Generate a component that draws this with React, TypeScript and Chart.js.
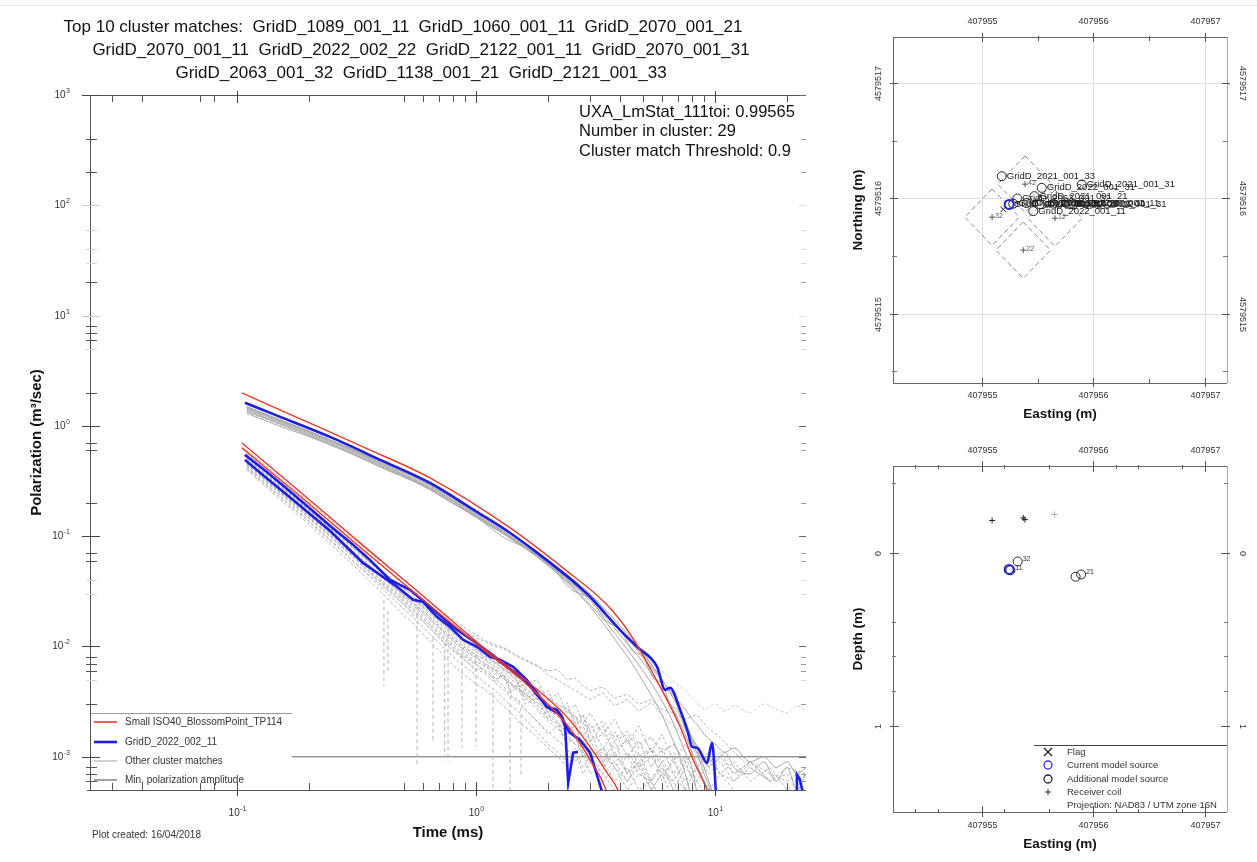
import React, { useEffect, useRef } from 'react';
import { Chart, registerables } from 'chart.js';

Chart.register(...registerables);

const FONT = '"Liberation Sans", Arial, Helvetica, sans-serif';

// ---------------- Main decay chart ----------------
const TITLE_LINES = [
  'Top 10 cluster matches:  GridD_1089_001_11  GridD_1060_001_11  GridD_2070_001_21',
  'GridD_2070_001_11  GridD_2022_002_22  GridD_2122_001_11  GridD_2070_001_31',
  'GridD_2063_001_32  GridD_1138_001_21  GridD_2121_001_33',
];
const TITLE_CENTERS = [403, 421, 421];
const INFO_LINES = ['UXA_LmStat_111toi: 0.99565', 'Number in cluster: 29', 'Cluster match Threshold: 0.9'];
const LEGEND_LABELS = ['Small ISO40_BlossomPoint_TP114', 'GridD_2022_002_11', 'Other cluster matches', 'Min. polarization amplitude'];
const PLOT_CREATED = 'Plot created: 16/04/2018';
const X_TITLE = 'Time (ms)';
const Y_TITLE = 'Polarization (m\u00B3/sec)';

const X_MIN = 0.0243;
const X_MAX = 24;
const Y_MIN = 5e-4;
const Y_MAX = 1000;
const MIN_POL = 0.001;

const X_TICKS = [0.03, 0.04, 0.07, 0.08, 0.2, 0.5, 0.6, 0.7, 0.8, 0.9, 2, 3, 4, 5, 6, 7, 8, 9, 20];
const X_MAJOR = [0.1, 1, 10];
const X_LABEL_EXP = ['-1', '0', '1'];
const Y_DECADES = [1000, 100, 10, 1, 0.1, 0.01, 0.001];
const Y_DECADE_EXP = ['3', '2', '1', '0', '-1', '-2', '-3'];
const Y_DECADES_LIGHT = [100, 10];
const Y_TICKS_DARK = [400, 200, 20, 8, 7, 6, 2, 0.7, 0.6, 0.2, 0.07, 0.06, 0.008, 0.007, 0.006, 0.003, 0.0008, 0.0007, 0.0006];
const Y_TICKS_LIGHT = [60, 40, 30, 5, 0.04, 0.03, 0.005];

// reference (red) curves [time ms, polarization]
const RED_1 = [[0.105, 1.99], [0.184, 1.16], [0.337, 0.645], [0.642, 0.338], [1.39, 0.119], [2.31, 0.0516], [3.53, 0.0239], [4.41, 0.013], [5.89, 0.00431], [7.14, 0.00187], [8.09, 0.00094], [9.26, 0.0005], [9.6, 0.0004]];
const RED_2 = [[0.105, 0.701], [0.184, 0.252], [0.337, 0.0826], [0.566, 0.032], [1.144, 0.00877], [1.57, 0.0052], [2.4, 0.0023], [3.0, 0.00123], [3.53, 0.00072], [3.92, 0.0005], [4.05, 0.0004]];
const RED_3 = [[0.105, 0.632], [0.184, 0.23], [0.337, 0.0755], [0.566, 0.0294], [1.144, 0.0084], [1.57, 0.00489], [2.4, 0.00195], [3.0, 0.00094], [3.5, 0.0005], [3.6, 0.0004]];

// current model (blue) curves
const BLUE_1 = [[0.108, 1.62], [0.15, 1.22], [0.245, 0.795], [0.4, 0.49], [0.642, 0.304], [1.0, 0.168], [1.39, 0.107], [1.8, 0.071], [2.31, 0.0465], [2.7, 0.035], [3.09, 0.0265], [3.5, 0.0195], [4.0, 0.01416], [4.72, 0.00993], [5.72, 0.00654], [6.18, 0.00405], [6.48, 0.00422], [7.14, 0.00267], [7.71, 0.00165], [8.01, 0.00123], [8.41, 0.00121], [9.26, 0.00088], [9.71, 0.00134], [10.1, 0.00045]];
const BLUE_2 = [[0.108, 0.546], [0.13, 0.4], [0.16, 0.275], [0.2, 0.182], [0.25, 0.12], [0.3, 0.087], [0.36, 0.061], [0.437, 0.0402], [0.53, 0.0327], [0.642, 0.0229], [0.833, 0.01416], [1.144, 0.00877], [1.35, 0.00654], [1.57, 0.0052], [1.73, 0.00405], [1.98, 0.00284], [2.25, 0.0024], [2.47, 0.00165], [2.72, 0.00143], [3.0, 0.00109], [3.4, 0.00045]];
const BLUE_3 = [[0.108, 0.492], [0.128, 0.36], [0.178, 0.2], [0.245, 0.112], [0.337, 0.0573], [0.371, 0.0495], [0.467, 0.0348], [0.545, 0.0265], [0.6, 0.0254], [0.687, 0.0186], [0.778, 0.0151], [0.883, 0.0115], [1.01, 0.00993], [1.144, 0.00806], [1.26, 0.00757], [1.43, 0.00654], [1.63, 0.00499], [1.8, 0.0038], [1.98, 0.00284], [2.18, 0.00267], [2.29, 0.0023], [2.36, 0.00187], [2.43, 0.00058], [2.55, 0.00109], [2.67, 0.00111]];
const BLUE_4 = [[21.8, 0.00045], [22.0, 0.00069], [22.6, 0.00063], [23.4, 0.00045]];

// other cluster matches, upper group, sampled at T_UPPER
const T_UPPER = [0.11, 0.15, 0.2, 0.3, 0.4, 0.6, 0.8, 1.0, 1.3, 1.6, 2.0, 2.5, 3.0, 3.5, 4.0, 4.5, 5.0, 5.5, 6.0, 6.5, 7.0, 7.5, 8.0, 8.5, 9.0, 10, 11, 12, 14, 16, 18, 20, 22, 24];
const UPPER_1 = [1.5, 1.15, 0.9, 0.62, 0.47, 0.315, 0.218, 0.16, 0.112, 0.082, 0.057, 0.039, 0.027, 0.019, 0.0138, 0.0106, 0.0085, 0.0065, 0.005, 0.0038, 0.0029, 0.0021, 0.0015, 0.0011, 0.0008, 0.0004];
const UPPER_2 = [1.35, 1.05, 0.82, 0.57, 0.43, 0.29, 0.2, 0.148, 0.105, 0.078, 0.055, 0.037, 0.026, 0.018, 0.0128, 0.0095, 0.0072, 0.0054, 0.004, 0.003, 0.0022, 0.0016, 0.0011, 0.0008, 0.0006, 0.0004];
const UPPER_3 = [1.42, 1.1, 0.86, 0.6, 0.45, 0.3, 0.21, 0.155, 0.11, 0.08, 0.056, 0.036, 0.024, 0.0165, 0.0115, 0.0082, 0.006, 0.0044, 0.0032, 0.0023, 0.0016, 0.0011, 0.0008, 0.0004];
const UPPER_4 = [1.3, 1.0, 0.8, 0.56, 0.42, 0.285, 0.198, 0.15, 0.098, 0.079, 0.058, 0.033, 0.027, 0.017, 0.0145, 0.0092, 0.008, 0.0052, 0.0046, 0.003, 0.0026, 0.0018, 0.0015, 0.0012, 0.001, 0.0009, 0.0011, 0.0008, 0.0007, 0.0009, 0.0006, 0.0008, 0.0005, 0.0007];
const UPPER_5 = [1.45, 1.12, 0.88, 0.61, 0.46, 0.31, 0.212, 0.156, 0.108, 0.079, 0.054, 0.035, 0.023, 0.015, 0.01, 0.007, 0.0048, 0.0034, 0.0024, 0.0016, 0.0011, 0.0007, 0.0004];
const UPPER_6 = [1.38, 1.07, 0.84, 0.585, 0.44, 0.295, 0.205, 0.152, 0.106, 0.079, 0.056, 0.038, 0.027, 0.0195, 0.014, 0.0105, 0.008, 0.0062, 0.0049, 0.004, 0.0032, 0.0027, 0.0022, 0.0019, 0.0016, 0.0013, 0.0011, 0.0012, 0.0009, 0.001, 0.0008, 0.0009, 0.0007, 0.0008];
const UPPER_7 = [1.33, 1.03, 0.81, 0.565, 0.425, 0.288, 0.2, 0.15, 0.107, 0.08, 0.058, 0.04, 0.029, 0.021, 0.0155, 0.012, 0.0095, 0.0075, 0.006, 0.0052, 0.0045, 0.004, 0.0034, 0.003, 0.0027, 0.003, 0.0026, 0.0029, 0.0025, 0.003, 0.0027, 0.0025, 0.0029, 0.0026];
const UPPER_8 = [1.48, 1.14, 0.89, 0.625, 0.475, 0.32, 0.222, 0.165, 0.118, 0.087, 0.061, 0.042, 0.03, 0.0212, 0.0155, 0.0116, 0.0088, 0.0066, 0.005, 0.0038, 0.0028, 0.002, 0.0014, 0.001, 0.0007, 0.0004];
const UPPER_GRAY = [UPPER_1, UPPER_2, UPPER_3, UPPER_4, UPPER_5, UPPER_6, UPPER_8];
const UPPER_FAINT = [UPPER_7];

// other cluster matches, lower group, sampled at T_LOWER
const T_LOWER = [0.11, 0.13, 0.16, 0.2, 0.25, 0.3, 0.36, 0.42, 0.5, 0.55, 0.6, 0.7, 0.76, 0.85, 1.0, 1.1, 1.2, 1.3, 1.4, 1.5, 1.6, 1.8, 2.0, 2.2, 2.4, 2.6, 2.8, 3.0, 3.4, 3.8, 4.3, 4.8, 5.4, 6.0, 6.7, 7.5, 8.4, 9.4, 10.5, 12, 14, 17, 20, 24];
const LOWER_1 = [0.5, 0.37, 0.255, 0.17, 0.113, 0.081, 0.058, 0.044, 0.032, 0.027, 0.023, 0.0172, 0.0148, 0.0121, 0.0096, 0.0084, 0.0071, 0.0063, 0.0055, 0.0048, 0.0043, 0.0033, 0.0025, 0.0021, 0.0016, 0.0013, 0.0011, 0.0009, 0.0007, 0.0005, 0.0004];
const LOWER_2 = [0.47, 0.35, 0.24, 0.16, 0.105, 0.075, 0.053, 0.04, 0.029, 0.0245, 0.021, 0.0155, 0.0132, 0.0108, 0.0084, 0.0075, 0.0062, 0.0057, 0.0046, 0.0043, 0.0036, 0.0029, 0.0022, 0.002, 0.0014, 0.0016, 0.0011, 0.0009, 0.0012, 0.0008, 0.0006, 0.0009, 0.0005, 0.0007, 0.0004];
const LOWER_3 = [0.44, 0.33, 0.225, 0.15, 0.098, 0.069, 0.048, 0.036, 0.026, 0.021, 0.018, 0.0132, 0.0112, 0.009, 0.007, 0.0058, 0.0052, 0.0044, 0.0036, 0.0033, 0.0027, 0.0021, 0.0017, 0.0014, 0.0012, 0.0009, 0.0011, 0.0007, 0.0009, 0.0006, 0.0008, 0.0005, 0.0006, 0.0004];
const LOWER_4 = [0.6, 0.45, 0.31, 0.205, 0.138, 0.098, 0.071, 0.054, 0.04, 0.034, 0.029, 0.022, 0.019, 0.016, 0.0128, 0.0112, 0.0104, 0.0098, 0.009, 0.0082, 0.0076, 0.0068, 0.0055, 0.005, 0.0044, 0.004, 0.0036, 0.0033, 0.0038, 0.0029, 0.0033, 0.0026, 0.0031, 0.0024, 0.0019, 0.0015, 0.0012, 0.0009, 0.0007, 0.0005];
const LOWER_5 = [0.42, 0.31, 0.21, 0.138, 0.09, 0.062, 0.043, 0.031, 0.022, 0.018, 0.015, 0.0108, 0.009, 0.0072, 0.0055, 0.0046, 0.004, 0.0034, 0.0029, 0.0026, 0.0022, 0.0017, 0.0013, 0.0011, 0.0009, 0.0012, 0.0008, 0.001, 0.0007, 0.0009, 0.0006, 0.0008, 0.0005, 0.0007, 0.0006, 0.0004];
const LOWER_6 = [0.52, 0.38, 0.26, 0.175, 0.116, 0.083, 0.059, 0.046, 0.033, 0.029, 0.023, 0.018, 0.015, 0.0128, 0.0098, 0.009, 0.0072, 0.0068, 0.0054, 0.0052, 0.0041, 0.0036, 0.0026, 0.0024, 0.0017, 0.0019, 0.0012, 0.0014, 0.0009, 0.0011, 0.0007, 0.0009, 0.0006, 0.0008, 0.0005];
const LOWER_7 = [0.46, 0.34, 0.235, 0.156, 0.103, 0.073, 0.051, 0.039, 0.028, 0.023, 0.02, 0.0146, 0.0123, 0.01, 0.0078, 0.0068, 0.006, 0.0052, 0.0045, 0.004, 0.0035, 0.0027, 0.0021, 0.0018, 0.0015, 0.0013, 0.0014, 0.001, 0.0012, 0.0009, 0.0011, 0.0008, 0.001, 0.0007, 0.0009, 0.0006, 0.0008, 0.001, 0.0007, 0.0006, 0.0009, 0.0007, 0.0006, 0.0008];
const LOWER_8 = [0.49, 0.36, 0.25, 0.165, 0.109, 0.077, 0.054, 0.04, 0.029, 0.024, 0.02, 0.015, 0.0126, 0.0102, 0.008, 0.007, 0.0061, 0.0054, 0.0047, 0.0042, 0.0038, 0.003, 0.0024, 0.002, 0.0017, 0.0015, 0.0012, 0.001, 0.0011, 0.0008, 0.001, 0.0007, 0.0006, 0.0009, 0.0007, 0.0005];
const LOWER_9 = [0.56, 0.42, 0.29, 0.195, 0.13, 0.092, 0.066, 0.05, 0.037, 0.031, 0.027, 0.02, 0.017, 0.0145, 0.012, 0.011, 0.01, 0.0096, 0.0088, 0.008, 0.0075, 0.0066, 0.006, 0.0062, 0.005, 0.0052, 0.0044, 0.004, 0.0043, 0.0034, 0.0037, 0.003, 0.0033, 0.0027, 0.0025, 0.0022, 0.0024, 0.0018, 0.0015, 0.0011, 0.0008, 0.0006];
const LOWER_10 = [0.4, 0.29, 0.195, 0.128, 0.083, 0.057, 0.039, 0.028, 0.019, 0.016, 0.013, 0.0092, 0.0076, 0.006, 0.0046, 0.004, 0.0034, 0.0029, 0.0025, 0.0021, 0.0019, 0.0015, 0.0012, 0.001, 0.0008, 0.0011, 0.0007, 0.0009, 0.0006, 0.0008, 0.0005, 0.0007, 0.0006, 0.0004];
const LOWER_11 = [0.45, 0.335, 0.23, 0.153, 0.101, 0.071, 0.05, 0.037, 0.027, 0.022, 0.019, 0.0138, 0.0116, 0.0094, 0.0073, 0.0066, 0.0057, 0.0051, 0.0046, 0.004, 0.0037, 0.0031, 0.0027, 0.0023, 0.002, 0.0017, 0.0019, 0.0014, 0.0016, 0.0012, 0.0014, 0.001, 0.0012, 0.0009, 0.0011, 0.0008, 0.001, 0.0007, 0.0009, 0.0006, 0.0008, 0.0006, 0.0007, 0.0005];
const LOWER_12 = [0.51, 0.375, 0.26, 0.172, 0.114, 0.081, 0.057, 0.043, 0.031, 0.026, 0.022, 0.0163, 0.0138, 0.0113, 0.0089, 0.008, 0.0071, 0.0063, 0.0058, 0.0052, 0.0048, 0.0041, 0.0034, 0.003, 0.0026, 0.0023, 0.002, 0.0018, 0.0021, 0.0015, 0.0017, 0.0013, 0.0015, 0.0011, 0.0013, 0.0009, 0.0011, 0.0008, 0.001, 0.0007, 0.0009, 0.0006, 0.0008, 0.0007];
const LOWER_13 = [0.43, 0.32, 0.22, 0.145, 0.095, 0.067, 0.046, 0.034, 0.024, 0.02, 0.017, 0.0123, 0.0102, 0.0082, 0.0063, 0.0056, 0.0047, 0.0041, 0.0035, 0.0031, 0.0027, 0.0021, 0.0016, 0.0019, 0.0013, 0.0015, 0.001, 0.0012, 0.0008, 0.0011, 0.0007, 0.0009, 0.0012, 0.0008, 0.0006, 0.0009, 0.0005];
const LOWER_14 = [0.48, 0.355, 0.245, 0.162, 0.107, 0.076, 0.053, 0.04, 0.029, 0.0245, 0.021, 0.0155, 0.0131, 0.0106, 0.0083, 0.0077, 0.0066, 0.0061, 0.005, 0.0047, 0.0039, 0.0034, 0.003, 0.0025, 0.0028, 0.0021, 0.0024, 0.0017, 0.0019, 0.0014, 0.0016, 0.0012, 0.0015, 0.0011, 0.0013, 0.0009, 0.0012, 0.0008, 0.0011, 0.0007, 0.0009, 0.0006];
const LOWER_15 = [0.55, 0.4, 0.27, 0.18, 0.12, 0.085, 0.06, 0.045, 0.034, 0.028, 0.024, 0.018, 0.015, 0.0125, 0.01, 0.0075, 0.0085, 0.006, 0.0068, 0.0045, 0.0052, 0.0035, 0.004, 0.0026, 0.0031, 0.0019, 0.0024, 0.0014, 0.0019, 0.001, 0.0015, 0.0008, 0.0012, 0.0006, 0.001, 0.0005, 0.0008, 0.0005, 0.0007];
const LOWER_16 = [0.41, 0.3, 0.205, 0.135, 0.088, 0.062, 0.044, 0.033, 0.024, 0.019, 0.017, 0.012, 0.01, 0.0085, 0.006, 0.0068, 0.0048, 0.0055, 0.0038, 0.0044, 0.003, 0.0034, 0.0022, 0.0027, 0.0016, 0.0021, 0.0012, 0.0017, 0.0009, 0.0014, 0.0007, 0.0011, 0.0006, 0.0009, 0.0005, 0.0008, 0.0006, 0.0004];
const LOWER_17 = [0.53, 0.39, 0.265, 0.176, 0.117, 0.083, 0.058, 0.044, 0.032, 0.027, 0.023, 0.017, 0.0145, 0.0118, 0.0093, 0.0082, 0.007, 0.0075, 0.0055, 0.0062, 0.0045, 0.005, 0.0032, 0.0038, 0.0025, 0.003, 0.002, 0.0025, 0.0016, 0.0022, 0.0013, 0.0019, 0.0011, 0.0016, 0.0009, 0.0013, 0.0008, 0.0011, 0.0007, 0.0009, 0.0006, 0.0008, 0.0005, 0.0007];
const LOWER_18 = [0.45, 0.33, 0.225, 0.148, 0.097, 0.068, 0.047, 0.035, 0.025, 0.021, 0.018, 0.0128, 0.0108, 0.0086, 0.0068, 0.006, 0.005, 0.0056, 0.004, 0.0047, 0.0033, 0.0038, 0.0025, 0.003, 0.0019, 0.0024, 0.0015, 0.002, 0.0012, 0.0017, 0.001, 0.0014, 0.0008, 0.0012, 0.0007, 0.001, 0.0006, 0.0009];
const LOWER_GRAY = [LOWER_1, LOWER_2, LOWER_3, LOWER_4, LOWER_5, LOWER_6, LOWER_7, LOWER_8, LOWER_9, LOWER_10, LOWER_11, LOWER_12, LOWER_13, LOWER_14, LOWER_15, LOWER_16, LOWER_17, LOWER_18];

// near-vertical drop-outs in the other cluster matches [time, from, to]
const DROPS = [
  [0.412, 0.0265, 0.0044],
  [0.428, 0.021, 0.006],
  [0.567, 0.031, 0.00085],
  [0.661, 0.012, 0.0014],
  [0.74, 0.0108, 0.001],
  [0.764, 0.0171, 0.0009],
  [0.874, 0.0098, 0.0012],
  [1.0, 0.0115, 0.00125],
  [1.178, 0.0038, 0.0004],
  [1.388, 0.0041, 0.0004],
  [1.543, 0.0028, 0.00068],
];

// ---------------- Plan-view map ----------------
const MAP_E_MIN = 407954.2;
const MAP_E_MAX = 407957.2;
const MAP_N_MIN = 4579514.4;
const MAP_N_MAX = 4579517.4;
const MAP_E_MAJOR = [407955, 407956, 407957];
const MAP_E_MINOR = [407955.5, 407956.5];
const MAP_N_MAJOR = [4579515, 4579516, 4579517];
const MAP_N_MINOR = [4579514.5, 4579515.5, 4579516.5];

const COILS = [
  { id: '42', e: 407955.386, n: 4579516.124 },
  { id: '32', e: 407955.09, n: 4579515.838 },
  { id: '22', e: 407955.37, n: 4579515.552 },
  { id: '12', e: 407955.655, n: 4579515.829 },
];
const COIL_HALF_DIAG = 0.245;

const CURRENT = { name: 'GridD_2022_002_11', e: 407955.243, n: 4579515.948, depth: 0.098 };
const FLAG = { e: 407955.19, n: 4579515.905 };
const MAP_SOURCES = [
  { name: 'GridD_2021_001_33', e: 407955.177, n: 4579516.193 },
  { name: 'GridD_2022_001_31', e: 407955.536, n: 4579516.092 },
  { name: 'GridD_2021_001_31', e: 407955.895, n: 4579516.121 },
  { name: 'GridD_2021_001_21', e: 407955.47, n: 4579516.02 },
  { name: 'GridD_2063_001_32', e: 407955.317, n: 4579516.0 },
  { name: 'GridD_2070_001_11', e: 407955.28, n: 4579515.955 },
  { name: 'GridD_2070_001_21', e: 407955.4, n: 4579515.96 },
  { name: 'GridD_2022_002_22', e: 407955.52, n: 4579515.95 },
  { name: 'GridD_2122_001_11', e: 407955.64, n: 4579515.955 },
  { name: 'GridD_1089_001_11', e: 407955.76, n: 4579515.96 },
  { name: 'GridD_2022_001_31', e: 407955.82, n: 4579515.95 },
  { name: 'GridD_2022_001_11', e: 407955.46, n: 4579515.89 },
];

// ---------------- Depth section ----------------
const DEPTH_MIN = -0.5;
const DEPTH_MAX = 1.5;
const DEPTH_E_TICKS = [407954.4, 407954.6, 407955.2, 407955.6, 407956.2, 407956.4, 407956.8];
const DEPTH_D_TICKS = [-0.4, 0.4, 0.6, 0.8];
const DEPTH_D_MAJOR = [0, 1];
const RECEIVERS = [
  { e: 407955.09, d: -0.185 },
  { e: 407955.37, d: -0.2 },
  { e: 407955.385, d: -0.19 },
];
const RECEIVERS_FAINT = [{ e: 407955.65, d: -0.22 }];
const DEPTH_SOURCES = [
  { label: '11', e: 407955.255, d: 0.103 },
  { label: '32', e: 407955.32, d: 0.052 },
  { label: '', e: 407955.84, d: 0.14 },
  { label: '21', e: 407955.89, d: 0.127 },
];
const DEPTH_LEGEND = ['Flag', 'Current model source', 'Additional model source', 'Receiver coil', 'Projection: NAD83 / UTM zone 16N'];

const RED = '#e5392c';
const BLUE = '#1d1de3';

// ---------------- helpers ----------------
const pairs = (arr: number[][]) => arr.map(([x, y]) => ({ x, y }));
const onGrid = (ts: number[], vs: number[]) => vs.map((v, i) => ({ x: ts[i], y: v }));

function seg(ctx: any, x1: number, y1: number, x2: number, y2: number) {
  ctx.beginPath();
  ctx.moveTo(x1, y1);
  ctx.lineTo(x2, y2);
  ctx.stroke();
}
function txt(ctx: any, s: string, x: number, y: number, font: string, color = '#222', align = 'left', base = 'middle') {
  ctx.font = font;
  ctx.fillStyle = color;
  ctx.textAlign = align;
  ctx.textBaseline = base;
  ctx.fillText(s, x, y);
}
function rtxt(ctx: any, s: string, x: number, y: number, font: string, angle: number, color = '#222') {
  ctx.save();
  ctx.translate(x, y);
  ctx.rotate(angle);
  txt(ctx, s, 0, 0, font, color, 'center', 'middle');
  ctx.restore();
}
function pow10(ctx: any, exp: string, x: number, y: number, align: string) {
  ctx.font = `10px ${FONT}`;
  const wb = ctx.measureText('10').width;
  ctx.font = `7px ${FONT}`;
  const we = ctx.measureText(exp).width;
  const total = wb + we + 0.5;
  const sx = align === 'right' ? x - total : x - total / 2;
  txt(ctx, '10', sx, y, `10px ${FONT}`, '#333');
  txt(ctx, exp, sx + wb + 0.5, y - 4, `7px ${FONT}`, '#333');
}
const r5 = (v: number) => Math.round(v) + 0.5;

// ---------------- plugins ----------------
const mainDeco = {
  id: 'mainDeco',
  afterDraw(chart: any) {
    const { ctx, chartArea: a } = chart;
    const xs = chart.scales.x;
    const ys = chart.scales.y;
    ctx.save();
    // legend box
    const lgRight = 292;
    const lgTop = 713;
    ctx.fillStyle = '#fff';
    ctx.fillRect(a.left + 1, lgTop, lgRight - a.left - 1, a.bottom - lgTop - 1);
    ctx.strokeStyle = '#999';
    ctx.lineWidth = 1;
    seg(ctx, a.left, r5(lgTop), lgRight, r5(lgTop));
    const rows = [722, 742, 761, 780];
    const styles = [
      { c: RED, w: 1.6 },
      { c: BLUE, w: 2.6 },
      { c: '#c4c4c4', w: 1.6 },
      { c: '#8c8c8c', w: 1.6 },
    ];
    rows.forEach((y, i) => {
      ctx.strokeStyle = styles[i].c;
      ctx.lineWidth = styles[i].w;
      seg(ctx, 94, y, 117, y);
      txt(ctx, LEGEND_LABELS[i], 125, y, `10px ${FONT}`, '#333');
    });

    // frame
    ctx.strokeStyle = '#555';
    ctx.lineWidth = 1;
    seg(ctx, a.left, r5(a.top), a.right, r5(a.top));
    seg(ctx, r5(a.left), a.top, r5(a.left), a.bottom);
    seg(ctx, a.left - 3, r5(a.bottom), a.right, r5(a.bottom));

    // x ticks (bottom & top, inward)
    X_TICKS.forEach((v) => {
      const x = r5(xs.getPixelForValue(v));
      ctx.strokeStyle = '#555';
      seg(ctx, x, a.bottom, x, a.bottom - 7);
      seg(ctx, x, a.top, x, a.top + 7);
    });
    X_MAJOR.forEach((v, i) => {
      const x = r5(xs.getPixelForValue(v));
      ctx.strokeStyle = '#444';
      seg(ctx, x, a.bottom + 6, x, a.bottom - 8);
      seg(ctx, x, a.top - 4, x, a.top + 8);
      pow10(ctx, X_LABEL_EXP[i], x, 813, 'center');
    });

    // y ticks
    Y_DECADES.forEach((v, i) => {
      const y = r5(ys.getPixelForValue(v));
      const light = Y_DECADES_LIGHT.includes(v);
      ctx.strokeStyle = light ? '#c8c8c8' : '#444';
      seg(ctx, a.left - 8, y, a.left + 10, y);
      ctx.strokeStyle = light ? '#dddddd' : '#666';
      seg(ctx, a.right - 7, y, a.right, y);
      pow10(ctx, Y_DECADE_EXP[i], 70, y, 'right');
    });
    Y_TICKS_DARK.forEach((v) => {
      const y = r5(ys.getPixelForValue(v));
      ctx.strokeStyle = '#555';
      seg(ctx, a.left - 4, y, a.left + 7, y);
      ctx.strokeStyle = '#999';
      seg(ctx, a.right - 5, y, a.right, y);
    });
    Y_TICKS_LIGHT.forEach((v) => {
      const y = r5(ys.getPixelForValue(v));
      ctx.strokeStyle = '#d4d4d4';
      seg(ctx, a.left - 4, y, a.left + 7, y);
      seg(ctx, a.right - 5, y, a.right, y);
    });

    // titles
    TITLE_LINES.forEach((s, i) => txt(ctx, s, TITLE_CENTERS[i], 27 + i * 23, `17px ${FONT}`, '#111', 'center'));
    INFO_LINES.forEach((s, i) => txt(ctx, s, 579, 112 + i * 19.5, `16.5px ${FONT}`, '#111'));
    txt(ctx, X_TITLE, (a.left + a.right) / 2, 833, `bold 15px ${FONT}`, '#111', 'center');
    rtxt(ctx, Y_TITLE, 37, (a.top + a.bottom) / 2, `bold 15px ${FONT}`, -Math.PI / 2, '#111');
    txt(ctx, PLOT_CREATED, 92, 835, `10px ${FONT}`, '#333');
    ctx.restore();
  },
};

function drawAxesBox(chart: any, eMajor: number[], eMinor: number[], yMajor: number[], yMinor: number[], yLabels: string[], bottomTitleY: number, leftTitle: string, topLabelY: number, bottomLabelY: number, majorLen: number, minorLen: number) {
  const { ctx, chartArea: a } = chart;
  const xs = chart.scales.x;
  const ys = chart.scales.y;
  ctx.save();
  ctx.strokeStyle = '#666';
  ctx.lineWidth = 1;
  seg(ctx, a.left, r5(a.top), a.right, r5(a.top));
  seg(ctx, a.left, r5(a.bottom), a.right, r5(a.bottom));
  seg(ctx, r5(a.left), a.top, r5(a.left), a.bottom);
  ctx.strokeStyle = '#aaa';
  seg(ctx, r5(a.right), a.top, r5(a.right), a.bottom);
  ctx.strokeStyle = '#555';
  eMajor.forEach((v) => {
    const x = r5(xs.getPixelForValue(v));
    seg(ctx, x, a.top - majorLen + 1, x, a.top + majorLen);
    seg(ctx, x, a.bottom - majorLen, x, a.bottom + majorLen - 1);
    txt(ctx, String(v), x, topLabelY, `9px ${FONT}`, '#333', 'center');
    txt(ctx, String(v), x, bottomLabelY, `9px ${FONT}`, '#333', 'center');
  });
  eMinor.forEach((v) => {
    const x = r5(xs.getPixelForValue(v));
    seg(ctx, x, a.top - 1, x, a.top + minorLen);
    seg(ctx, x, a.bottom - minorLen, x, a.bottom + 1);
  });
  yMajor.forEach((v, i) => {
    const y = r5(ys.getPixelForValue(v));
    seg(ctx, a.left - 3, y, a.left + majorLen, y);
    seg(ctx, a.right - majorLen, y, a.right + 3, y);
    rtxt(ctx, yLabels[i], 879, y, `9px ${FONT}`, -Math.PI / 2, '#333');
    rtxt(ctx, yLabels[i], 1242, y, `9px ${FONT}`, Math.PI / 2, '#333');
  });
  ctx.strokeStyle = '#777';
  yMinor.forEach((v) => {
    const y = r5(ys.getPixelForValue(v));
    seg(ctx, a.left - 1, y, a.left + minorLen, y);
    seg(ctx, a.right - minorLen, y, a.right + 1, y);
  });
  txt(ctx, 'Easting (m)', (a.left + a.right) / 2, bottomTitleY, `bold 13.5px ${FONT}`, '#111', 'center');
  rtxt(ctx, leftTitle, 858, (a.top + a.bottom) / 2, `bold 13.5px ${FONT}`, -Math.PI / 2, '#111');
  ctx.restore();
}

const mapDeco = {
  id: 'mapDeco',
  beforeDatasetsDraw(chart: any) {
    const { ctx, chartArea: a } = chart;
    const xs = chart.scales.x;
    const ys = chart.scales.y;
    ctx.save();
    ctx.strokeStyle = '#dedede';
    ctx.lineWidth = 1;
    MAP_E_MAJOR.forEach((v) => {
      const x = r5(xs.getPixelForValue(v));
      seg(ctx, x, a.top, x, a.bottom);
    });
    MAP_N_MAJOR.forEach((v) => {
      const y = r5(ys.getPixelForValue(v));
      seg(ctx, a.left, y, a.right, y);
    });
    ctx.restore();
  },
  afterDatasetsDraw(chart: any) {
    const { ctx } = chart;
    const xs = chart.scales.x;
    const ys = chart.scales.y;
    ctx.save();
    MAP_SOURCES.forEach((s) => {
      txt(ctx, s.name, xs.getPixelForValue(s.e) + 5, ys.getPixelForValue(s.n), `9.5px ${FONT}`, '#1a1a1a');
    });
    txt(ctx, CURRENT.name, xs.getPixelForValue(CURRENT.e) + 5, ys.getPixelForValue(CURRENT.n), `9.5px ${FONT}`, '#1a1a1a');
    COILS.forEach((c) => {
      txt(ctx, c.id, xs.getPixelForValue(c.e) + 3, ys.getPixelForValue(c.n) - 1, `7px ${FONT}`, '#555');
    });
    ctx.restore();
  },
  afterDraw(chart: any) {
    drawAxesBox(chart, MAP_E_MAJOR, MAP_E_MINOR, MAP_N_MAJOR, MAP_N_MINOR, MAP_N_MAJOR.map(String), 414, 'Northing (m)', 22, 396, 5, 4);
  },
};

const depthDeco = {
  id: 'depthDeco',
  afterDatasetsDraw(chart: any) {
    const { ctx } = chart;
    const xs = chart.scales.x;
    const ys = chart.scales.y;
    ctx.save();
    DEPTH_SOURCES.forEach((s) => {
      if (s.label) txt(ctx, s.label, xs.getPixelForValue(s.e) + 5, ys.getPixelForValue(s.d) - 2, `7px ${FONT}`, '#333');
    });
    ctx.restore();
  },
  afterDraw(chart: any) {
    const { ctx } = chart;
    drawAxesBox(chart, MAP_E_MAJOR, DEPTH_E_TICKS, DEPTH_D_MAJOR, DEPTH_D_TICKS, DEPTH_D_MAJOR.map(String), 844, 'Depth (m)', 451, 826, 6, 3);
    ctx.save();
    ctx.strokeStyle = '#444';
    ctx.lineWidth = 1;
    seg(ctx, 1034, 745.5, 1227, 745.5);
    const rows = [752, 765, 779, 792, 805];
    const sx = 1048;
    ctx.strokeStyle = '#222';
    ctx.lineWidth = 1.2;
    seg(ctx, sx - 4, rows[0] - 4, sx + 4, rows[0] + 4);
    seg(ctx, sx - 4, rows[0] + 4, sx + 4, rows[0] - 4);
    ctx.lineWidth = 1.3;
    ctx.strokeStyle = '#3333dd';
    ctx.beginPath();
    ctx.arc(sx, rows[1], 4, 0, Math.PI * 2);
    ctx.stroke();
    ctx.strokeStyle = '#222';
    ctx.beginPath();
    ctx.arc(sx, rows[2], 4, 0, Math.PI * 2);
    ctx.stroke();
    ctx.lineWidth = 1;
    seg(ctx, sx - 3, rows[3], sx + 3, rows[3]);
    seg(ctx, sx, rows[3] - 3, sx, rows[3] + 3);
    DEPTH_LEGEND.forEach((s, i) => txt(ctx, s, 1067, rows[i], `9.5px ${FONT}`, '#333'));
    ctx.restore();
  },
};

// ---------------- configs ----------------
function mainConfig(): any {
  const smooth = { cubicInterpolationMode: 'monotone' };
  const datasets = [
    ...[RED_1, RED_2, RED_3].map((c) => ({ data: pairs(c), borderColor: RED, borderWidth: 1.4, ...smooth })),
    { data: pairs(BLUE_1), borderColor: BLUE, borderWidth: 2.6, ...smooth },
    ...[BLUE_2, BLUE_3, BLUE_4].map((c) => ({ data: pairs(c), borderColor: BLUE, borderWidth: 2.6 })),
    ...UPPER_GRAY.map((v) => ({ data: onGrid(T_UPPER, v), borderColor: '#a8a8a8', borderWidth: 1, ...smooth })),
    ...UPPER_FAINT.map((v) => ({ data: onGrid(T_UPPER, v), borderColor: '#cdcdcd', borderWidth: 1, borderDash: [3, 2], ...smooth })),
    ...LOWER_GRAY.map((v) => ({ data: onGrid(T_LOWER, v), borderColor: '#b3b3b3', borderWidth: 1, borderDash: [3, 2] })),
    ...DROPS.map(([t, a, b]) => ({ data: [{ x: t, y: a }, { x: t, y: b }], borderColor: '#b4b4b4', borderWidth: 1, borderDash: [4, 3] })),
    { data: [{ x: X_MIN, y: MIN_POL }, { x: X_MAX, y: MIN_POL }], borderColor: '#666', borderWidth: 1 },
  ].map((d) => ({ ...d, pointRadius: 0, fill: false, clip: 0 }));
  return {
    type: 'line',
    data: { datasets },
    options: {
      animation: false,
      responsive: false,
      events: [],
      layout: { padding: { left: 90, top: 95, right: 1257 - 806, bottom: 862 - 790 } },
      plugins: { legend: { display: false }, tooltip: { enabled: false }, title: { display: false } },
      scales: {
        x: { type: 'logarithmic', min: X_MIN, max: X_MAX, display: false },
        y: { type: 'logarithmic', min: Y_MIN, max: Y_MAX, display: false },
      },
    },
    plugins: [mainDeco],
  };
}

function diamond(c: { e: number; n: number }) {
  const h = COIL_HALF_DIAG;
  return [
    { x: c.e, y: c.n + h },
    { x: c.e + h, y: c.n },
    { x: c.e, y: c.n - h },
    { x: c.e - h, y: c.n },
    { x: c.e, y: c.n + h },
  ];
}

function mapConfig(): any {
  const datasets: any[] = [
    { data: [{ x: CURRENT.e, y: CURRENT.n }], pointStyle: 'circle', pointRadius: 4.5, borderColor: '#2323c8', borderWidth: 2, backgroundColor: 'rgba(0,0,0,0)' },
    { data: [{ x: FLAG.e, y: FLAG.n }], pointStyle: 'crossRot', pointRadius: 4, borderColor: '#222', borderWidth: 1 },
    { data: MAP_SOURCES.map((s) => ({ x: s.e, y: s.n })), pointStyle: 'circle', pointRadius: 4.5, borderColor: '#222', borderWidth: 1, backgroundColor: 'rgba(0,0,0,0)' },
    { data: COILS.map((c) => ({ x: c.e, y: c.n })), pointStyle: 'cross', pointRadius: 3, borderColor: '#555', borderWidth: 1 },
    ...COILS.map((c) => ({ data: diamond(c), showLine: true, pointRadius: 0, borderColor: '#8c8c8c', borderWidth: 1, borderDash: [5, 3] })),
  ];
  return {
    type: 'scatter',
    data: { datasets },
    options: {
      animation: false,
      responsive: false,
      events: [],
      layout: { padding: { left: 893, top: 37, right: 1257 - 1227, bottom: 862 - 383 } },
      plugins: { legend: { display: false }, tooltip: { enabled: false } },
      scales: {
        x: { type: 'linear', min: MAP_E_MIN, max: MAP_E_MAX, display: false },
        y: { type: 'linear', min: MAP_N_MIN, max: MAP_N_MAX, display: false },
      },
    },
    plugins: [mapDeco],
  };
}

function depthConfig(): any {
  const datasets: any[] = [
    { data: [{ x: CURRENT.e, y: CURRENT.depth }], pointStyle: 'circle', pointRadius: 4.5, borderColor: '#2323c8', borderWidth: 2, backgroundColor: 'rgba(0,0,0,0)' },
    { data: DEPTH_SOURCES.map((s) => ({ x: s.e, y: s.d })), pointStyle: 'circle', pointRadius: 4.5, borderColor: '#222', borderWidth: 1, backgroundColor: 'rgba(0,0,0,0)' },
    { data: RECEIVERS.map((r) => ({ x: r.e, y: r.d })), pointStyle: 'cross', pointRadius: 3, borderColor: '#222', borderWidth: 1 },
    { data: RECEIVERS_FAINT.map((r) => ({ x: r.e, y: r.d })), pointStyle: 'cross', pointRadius: 3, borderColor: '#aaa', borderWidth: 1 },
  ];
  return {
    type: 'scatter',
    data: { datasets },
    options: {
      animation: false,
      responsive: false,
      events: [],
      layout: { padding: { left: 893, top: 466, right: 1257 - 1227, bottom: 862 - 812 } },
      plugins: { legend: { display: false }, tooltip: { enabled: false } },
      scales: {
        x: { type: 'linear', min: MAP_E_MIN, max: MAP_E_MAX, display: false },
        y: { type: 'linear', min: DEPTH_MIN, max: DEPTH_MAX, reverse: true, display: false },
      },
    },
    plugins: [depthDeco],
  };
}

export default function App() {
  const mainRef = useRef<HTMLCanvasElement>(null);
  const mapRef = useRef<HTMLCanvasElement>(null);
  const depthRef = useRef<HTMLCanvasElement>(null);
  useEffect(() => {
    const charts = [
      new Chart(mainRef.current as HTMLCanvasElement, mainConfig()),
      new Chart(mapRef.current as HTMLCanvasElement, mapConfig()),
      new Chart(depthRef.current as HTMLCanvasElement, depthConfig()),
    ];
    return () => charts.forEach((c) => c.destroy());
  }, []);
  const cs: React.CSSProperties = { position: 'absolute', left: 0, top: 0, width: 1257, height: 862 };
  return (
    <div style={{ position: 'absolute', left: 0, top: 0, width: 1257, height: 862, background: '#fff', overflow: 'hidden' }}>
      <div style={{ position: 'absolute', left: 0, top: 5, width: 1257, height: 1, background: '#e4e4e4' }} />
      <canvas ref={mainRef} width={1257} height={862} style={cs} />
      <canvas ref={mapRef} width={1257} height={862} style={cs} />
      <canvas ref={depthRef} width={1257} height={862} style={cs} />
    </div>
  );
}
